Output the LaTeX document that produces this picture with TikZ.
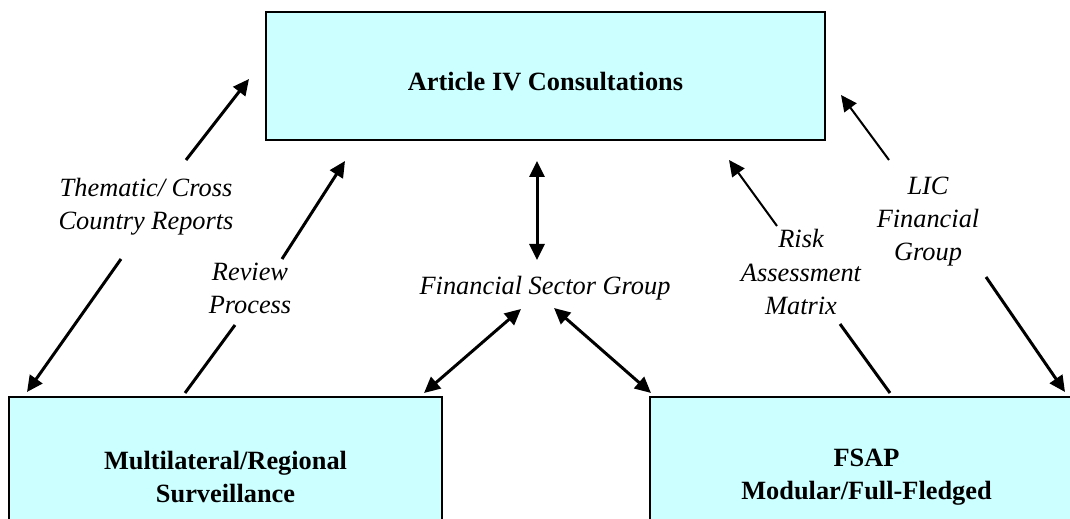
\documentclass[tikz,border=0pt]{standalone}
\usepackage{fontspec}
\setmainfont{Liberation Serif}
\usetikzlibrary{arrows.meta}
\definecolor{boxcyan}{HTML}{CCFFFF}
\tikzset{
  box/.style={rectangle, draw=black, line width=1pt, fill=boxcyan, align=center,
    font=\fontsize{15}{18.8}\selectfont\bfseries, inner sep=0pt},
  lbl/.style={align=center, font=\fontsize{15}{18.8}\selectfont\itshape, inner sep=1pt},
  thick arrow/.style={line width=1.7pt},
  thin arrow/.style={line width=1.15pt}
}
\begin{document}
\begin{tikzpicture}
	[x=0.02cm,y=-0.02cm,>={Triangle[length=0.32cm,width=0.3cm]}]
	\useasboundingbox (0,0) rectangle (1070,519);
	\clip (0,0) rectangle (1070,519);
	\node[box, minimum width=11.18cm, minimum height=2.56cm, text height=17pt, text depth=0pt] (art) at (545.5,76) {Article IV Consultations};
	\node[box, minimum width=8.66cm, minimum height=3.2cm] (mrs) at (225.5,477) {Multilateral/Regional\\Surveillance};
	\node[box, minimum width=8.66cm, minimum height=3.2cm] (fsap) at (866.5,477) {FSAP\\Modular/Full-Fledged};
	
	\node[lbl] (thm) at (146,207) {Thematic/ Cross\\Country Reports};
	\node[lbl] (rev) at (250,288) {Review\\Process};
	\node[lbl] (fsg) at (545,288) {Financial Sector Group};
	\node[lbl] (ram) at (801,272) {Risk\\Assessment\\Matrix};
	\node[lbl] (lic) at (928,222) {LIC\\Financial\\Group};
	
	% arrow ends
	\coordinate (thm1) at (186,160); \coordinate (thm2) at (249,79);
	\coordinate (thm3) at (121,259); \coordinate (thm4) at (27,392);
	\coordinate (rev1) at (282,259); \coordinate (rev2) at (345,161);
	\coordinate (rev3) at (235,325); \coordinate (rev4) at (185,393);
	\coordinate (fsg1) at (537,161); \coordinate (fsg2) at (537,260);
	\coordinate (fsg3) at (521,309); \coordinate (fsg4) at (424,393);
	\coordinate (fsg5) at (554,308); \coordinate (fsg6) at (651,393);
	\coordinate (ram1) at (777,226); \coordinate (ram2) at (729,160);
	\coordinate (ram3) at (840,324); \coordinate (ram4) at (890,393);
	\coordinate (lic1) at (889,160); \coordinate (lic2) at (841,95);
	\coordinate (lic3) at (986,277); \coordinate (lic4) at (1065,392);
	
	\foreach \from/\to in {thm1/thm2,thm3/thm4,rev1/rev2,lic3/lic4}
		\draw[thick arrow,->] (\from) -- (\to);
	\foreach \from/\to in {ram1/ram2,lic1/lic2}
		\draw[thin arrow,->] (\from) -- (\to);
	\foreach \from/\to in {fsg1/fsg2,fsg3/fsg4,fsg5/fsg6}
		\draw[thick arrow,<->] (\from) -- (\to);
	\foreach \from/\to in {rev3/rev4,ram3/ram4}
		\draw[thick arrow] (\from) -- (\to);
\end{tikzpicture}
\end{document}
